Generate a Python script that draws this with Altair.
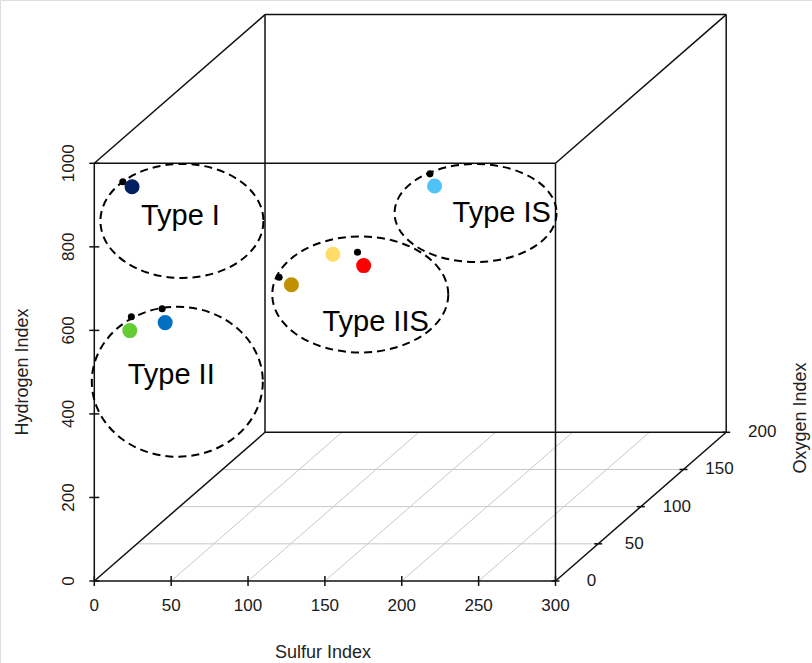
import altair as alt
import pandas as pd

# ---- axis ranges and ticks -------------------------------------------------
sulfur_range = [0, 300]
oxygen_range = [0, 200]
hydrogen_range = [0, 1000]
sulfur_ticks = [0, 50, 100, 150, 200, 250, 300]
oxygen_ticks = [0, 50, 100, 150, 200]
hydrogen_ticks = [0, 200, 400, 600, 800, 1000]

# ---- samples (coloured markers) --------------------------------------------
sample_id = ["A", "B", "C", "D", "E", "F", "G"]
sample_sulfur = [19, 12, 35, 106, 133, 153, 213]
sample_oxygen = [10, 20, 20, 40, 40, 40, 15]
sample_hydrogen = [926, 564, 583, 638, 711, 684, 919]
sample_colors = ["#002060", "#66CC33", "#0070C0", "#BF9000", "#FFDD66", "#FF0000", "#4FC3F7"]

# ---- reference points (small black markers) --------------------------------
ref_sulfur = [13, 13, 33, 98, 149, 210]
ref_oxygen = [10, 20, 20, 40, 40, 15]
ref_hydrogen = [938, 597, 616, 656, 716, 948]

# ---- kerogen type groups: ellipse centre and label anchor (front plane) -----
group_names = ["Type I", "Type II", "Type IIS", "Type IS"]
group_center_sulfur = [57, 54, 173, 248]
group_center_hydrogen = [862, 477, 686, 881]
group_label_sulfur = [56, 50, 183, 265]
group_label_hydrogen = [874, 493, 620, 882]

# ---- projection of the 3D box onto the page --------------------------------
W, H = 812, 663
X0, Y0 = 94.3, 581.0                 # page position of the origin
KS = 461.2 / (sulfur_range[1] - sulfur_range[0])
KH = 417.7 / (hydrogen_range[1] - hydrogen_range[0])
KOX = 170.7 / (oxygen_range[1] - oxygen_range[0])
KOY = 148.7 / (oxygen_range[1] - oxygen_range[0])

FONT = "Liberation Sans"
LINE = "#111111"
xs = alt.Scale(domain=[0, W], nice=False, zero=False)
ys = alt.Scale(domain=[0, H], nice=False, zero=False, reverse=True)


def px(s, o, off=0):
    return f"{X0} + {KS}*datum.{s} + {KOX}*datum.{o} + ({off})"


def py(o, h, off=0):
    return f"{Y0} - {KH}*datum.{h} - {KOY}*datum.{o} + ({off})"


def segments(rows, color, width):
    df = pd.DataFrame(rows, columns=["s", "o", "h", "s2", "o2", "h2"])
    return (
        alt.Chart(df)
        .transform_calculate(
            px=px("s", "o"), py=py("o", "h"), px2=px("s2", "o2"), py2=py("o2", "h2")
        )
        .mark_rule(color=color, strokeWidth=width)
        .encode(
            x=alt.X("px:Q", scale=xs, axis=None),
            y=alt.Y("py:Q", scale=ys, axis=None),
            x2="px2:Q",
            y2="py2:Q",
        )
    )


S0, S1 = sulfur_range
O0, O1 = oxygen_range
H0, H1 = hydrogen_range

# floor grid
grid_rows = [(S0, o, H0, S1, o, H0) for o in oxygen_ticks[1:-1]]
grid_rows += [(s, O0, H0, s, O1, H0) for s in sulfur_ticks[1:-1]]
grid = segments(grid_rows, "#c8c8c8", 1)

# box edges
box_rows = []
for o in (O0, O1):
    box_rows += [
        (S0, o, H0, S1, o, H0),
        (S1, o, H0, S1, o, H1),
        (S1, o, H1, S0, o, H1),
        (S0, o, H1, S0, o, H0),
    ]
for s in (S0, S1):
    for h in (H0, H1):
        box_rows.append((s, O0, h, s, O1, h))
box = segments(box_rows, LINE, 1.5)


# tick marks
def ticks(values, field, fixed, dx, dy):
    df = pd.DataFrame({field: values})
    for k, v in fixed.items():
        df[k] = v
    return (
        alt.Chart(df)
        .transform_calculate(
            px=px("s", "o", -dx), py=py("o", "h", -dy),
            px2=px("s", "o", dx), py2=py("o", "h", dy),
        )
        .mark_rule(color=LINE, strokeWidth=1.5)
        .encode(
            x=alt.X("px:Q", scale=xs, axis=None),
            y=alt.Y("py:Q", scale=ys, axis=None),
            x2="px2:Q",
            y2="py2:Q",
        )
    )


x_ticks = ticks(sulfur_ticks, "s", {"o": O0, "h": H0}, 0, 5)
z_ticks = ticks(hydrogen_ticks, "h", {"s": S0, "o": O0}, 5, 0)
o_ticks = ticks(oxygen_ticks, "o", {"s": S1, "h": H0}, 4, 0)


def tick_labels(values, field, fixed, dx, dy, angle=0):
    df = pd.DataFrame({field: values})
    for k, v in fixed.items():
        df[k] = v
    return (
        alt.Chart(df)
        .transform_calculate(px=px("s", "o", dx), py=py("o", "h", dy))
        .mark_text(font=FONT, fontSize=17, color="#1a1a1a", align="center",
                   baseline="middle", angle=angle)
        .encode(
            x=alt.X("px:Q", scale=xs, axis=None),
            y=alt.Y("py:Q", scale=ys, axis=None),
            text=alt.Text(f"{field}:Q"),
        )
    )


x_labels = tick_labels(sulfur_ticks, "s", {"o": O0, "h": H0}, 0, 25)
z_labels = tick_labels(hydrogen_ticks, "h", {"s": S0, "o": O0}, -25, 0, angle=270)
o_labels = tick_labels(oxygen_ticks, "o", {"s": S1, "h": H0}, 36, 0)

# axis titles
title_style = dict(font=FONT, fontSize=18, color="#222222", align="center", baseline="middle")
titles = [
    alt.Chart(pd.DataFrame({"t": ["Sulfur Index"]})).mark_text(**title_style)
    .encode(x=alt.value(323), y=alt.value(653), text="t:N"),
    alt.Chart(pd.DataFrame({"t": ["Hydrogen Index"]})).mark_text(angle=270, **title_style)
    .encode(x=alt.value(23), y=alt.value(372), text="t:N"),
    alt.Chart(pd.DataFrame({"t": ["Oxygen Index"]})).mark_text(angle=270, **title_style)
    .encode(x=alt.value(801), y=alt.value(418), text="t:N"),
]

# dashed ellipses around the groups
ellipse_px = {"Type I": (163, 114), "Type II": (171, 150),
              "Type IIS": (176, 116), "Type IS": (162, 98)}


def ellipse_path(ry):
    k = 0.5523
    return (
        f"M1,0 C1,{k*ry:.4f} {k},{ry:.4f} 0,{ry:.4f} "
        f"C{-k},{ry:.4f} -1,{k*ry:.4f} -1,0 "
        f"C-1,{-k*ry:.4f} {-k},{-ry:.4f} 0,{-ry:.4f} "
        f"C{k},{-ry:.4f} 1,{-k*ry:.4f} 1,0 Z"
    )


groups = pd.DataFrame({
    "name": group_names,
    "cs": group_center_sulfur, "ch": group_center_hydrogen,
    "ls": group_label_sulfur, "lh": group_label_hydrogen,
    "o": [O0] * len(group_names),
})

ellipses = []
for name in group_names:
    w, h = ellipse_px[name]
    ellipses.append(
        alt.Chart(groups[groups["name"] == name])
        .transform_calculate(px=px("cs", "o"), py=py("o", "ch"))
        .mark_point(shape=ellipse_path(h / w), size=w * w, filled=False,
                    stroke="black", strokeWidth=2, strokeDash=[8, 5], opacity=1)
        .encode(x=alt.X("px:Q", scale=xs, axis=None),
                y=alt.Y("py:Q", scale=ys, axis=None))
    )

group_text = (
    alt.Chart(groups)
    .transform_calculate(px=px("ls", "o"), py=py("o", "lh"))
    .mark_text(font=FONT, fontSize=29, color="black", align="center", baseline="middle")
    .encode(x=alt.X("px:Q", scale=xs, axis=None),
            y=alt.Y("py:Q", scale=ys, axis=None), text="name:N")
)

# points
refs = pd.DataFrame({"s": ref_sulfur, "o": ref_oxygen, "h": ref_hydrogen})
ref_pts = (
    alt.Chart(refs)
    .transform_calculate(px=px("s", "o"), py=py("o", "h"))
    .mark_circle(color="black", size=50, opacity=1)
    .encode(x=alt.X("px:Q", scale=xs, axis=None),
            y=alt.Y("py:Q", scale=ys, axis=None))
)

samples = pd.DataFrame({"id": sample_id, "s": sample_sulfur,
                        "o": sample_oxygen, "h": sample_hydrogen})
sample_pts = (
    alt.Chart(samples)
    .transform_calculate(px=px("s", "o"), py=py("o", "h"))
    .mark_circle(size=227, opacity=1)
    .encode(
        x=alt.X("px:Q", scale=xs, axis=None),
        y=alt.Y("py:Q", scale=ys, axis=None),
        color=alt.Color("id:N", scale=alt.Scale(domain=sample_id, range=sample_colors),
                        legend=None),
    )
)

chart = (
    alt.layer(grid, box, x_ticks, z_ticks, o_ticks, x_labels, z_labels, o_labels,
              *titles, *ellipses, ref_pts, sample_pts, group_text)
    .properties(width=W, height=H, autosize="none", padding=0)
    .configure_view(stroke=None)
    .configure(background="white")
)

chart.save("out.html", embed_options={"renderer": "svg", "actions": False})
